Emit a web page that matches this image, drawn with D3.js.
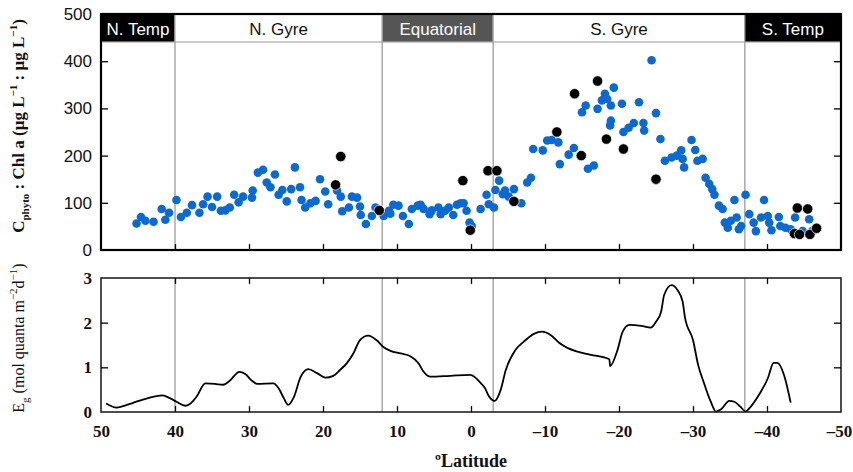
<!DOCTYPE html>
<html><head><meta charset="utf-8">
<script src="https://cdn.jsdelivr.net/npm/d3@7"></script>
<style>body{margin:0;background:#fff}</style>
</head><body>
<svg id="c" width="853" height="472"></svg>
<script>
// ---------- data ----------
const latTicks = [50,40,30,20,10,0,-10,-20,-30,-40,-50];
const innerLatTicks = [40,30,20,10,0,-10,-20,-30,-40];
const chlTicks = [0,100,200,300,400,500];
const egTicks = [0,1,2,3];
const regionNames = ["N. Temp","N. Gyre","Equatorial","S. Gyre","S. Temp"];
const regionBounds = [50,40,12,-3,-37,-50];

// C_phyto : Chl a from cell counts (blue)
const cellLat = [45.2,44.6,44.0,42.9,41.8,41.3,40.8,39.8,39.2,38.4,37.7,36.7,36.2,35.6,35.0,34.3,33.8,33.2,32.6,32.0,31.4,30.8,29.6,29.5,28.8,28.1,27.6,27.1,26.5,26.0,25.5,24.9,24.3,23.8,23.1,22.9,22.4,21.7,21.0,20.4,19.7,19.3,18.1,17.6,17.4,16.5,16.1,15.4,15.0,14.9,14.2,13.4,12.9,11.8,11.1,
 10.9,10.5,9.8,9.2,8.4,8.0,7.2,6.8,6.4,5.6,5.3,4.4,4.1,3.5,3.0,2.4,1.9,1.4,1.0,0.6,0.2,-0.1,-1.3,-2.1,-2.4,-3.1,-3.3,-3.8,-4.3,-4.6,-5.1,-5.8,-6.8,-7.6,-8.1,-8.4,-9.7,-10.3,-10.9,-11.8,-12.0,-13.2,-13.9,-15.0,-15.5,-15.8,-16.6,-17.1,-17.7,-18.1,-18.4,-18.9,-18.9,-18.8,-19.3,-20.4,-20.6,
 -21.3,-22.0,-22.7,-23.3,-23.4,-24.4,-25.0,-25.6,-26.2,-27.1,-27.8,-28.4,-28.6,-28.8,-29.8,-30.3,-30.6,-31.3,-31.7,-32.2,-32.6,-32.9,-33.5,-34.0,-34.3,-34.7,-35.1,-35.6,-35.9,-36.2,-36.5,-37.1,-37.6,-38.2,-38.5,-39.2,-39.6,-40.1,-40.3,-40.6,-41.6,-41.8,-42.5,-43.2,-43.8,-45.7,-44.8,-46.1];
const cellRatio = [56,70,62,60,87,64,79,106,70,79,95,79,97,113,91,113,83,84,90,117,101,113,111,126,164,170,143,133,160,117,127,103,129,175,133,106,90,99,104,150,124,97,126,113,82,90,113,111,92,74,55,72,90,72,83,
 77,96,94,72,55,87,94,96,87,76,84,90,76,83,90,74,96,99,99,83,58,51,87,117,97,90,127,147,118,126,113,129,99,143,153,214,211,232,233,228,182,202,216,292,306,172,179,299,317,331,320,306,274,264,344,310,250,
 259,269,313,269,253,402,290,235,189,196,200,211,193,175,233,212,189,193,153,140,129,117,94,87,58,47,62,106,69,44,51,117,76,58,40,69,106,72,58,42,70,51,47,44,69,65,40,40];

// C_phyto : Chl a, second data set (black)
const hplcLat = [18.3,17.6,12.4,1.1,0.1,-2.3,-3.5,-5.8,-11.6,-14.0,-14.9,-17.1,-18.3,-20.6,-25.0,-44.1,-45.5,-43.7,-44.4,-45.8,-46.7];
const hplcRatio = [138,198,84,147,42,168,168,103,250,331,200,358,235,214,150,89,87,35,33,33,46];

// E_g
const egLat = [49.3,47.9,46.5,45.2,43.4,41.7,40.7,39.8,38.6,38.0,37.1,35.9,34.6,33.5,32.6,31.3,30.5,29.6,28.9,26.7,26.0,25.3,24.7,24.0,23.0,22.0,20.8,19.7,18.6,17.7,16.8,15.9,15.0,13.9,12.7,11.8,10.9,9.5,8.2,7.1,6.4,5.5,2.8,0.1,-1.3,-1.9,-2.4,-3.2,-4.0,-4.7,-6.0,-7.1,-8.5,-9.6,-10.8,-11.9,-13.1,-14.4,-16.2,-18.7,-18.8,-19.8,-20.5,-21.4,-23.0,-24.3,-25.0,-25.7,-26.1,-27.1,-27.9,-28.6,-28.9,-30.0,-30.7,-31.5,-32.4,-33.1,-33.8,-34.9,-35.6,-36.4,-37.1,-37.7,-38.9,-40.1,-40.9,-41.4,-42.3,-43.2];
const egVal = [0.19,0.10,0.16,0.23,0.32,0.37,0.31,0.23,0.14,0.18,0.34,0.64,0.63,0.61,0.70,0.90,0.85,0.70,0.63,0.64,0.53,0.31,0.16,0.31,0.79,0.96,0.87,0.77,0.81,0.94,1.09,1.31,1.61,1.71,1.60,1.45,1.37,1.31,1.25,1.09,0.90,0.79,0.81,0.83,0.65,0.53,0.36,0.25,0.49,0.94,1.39,1.57,1.75,1.80,1.72,1.55,1.43,1.35,1.28,1.18,1.03,1.39,1.80,1.95,1.93,1.89,2.02,2.25,2.62,2.84,2.73,2.47,2.13,1.61,1.05,0.64,0.23,0.01,0.06,0.25,0.23,0.12,0.01,0.10,0.38,0.75,1.10,1.10,0.83,0.21];

// ---------- styles ----------
const regionFill = ["#000","#fff","#555","#fff","#000"];
const regionText = ["#fff","#111","#fff","#111","#fff"];
const SANS = "'Liberation Sans', Arial, sans-serif";
const SERIF = "'Liberation Serif', 'Times New Roman', serif";

// ---------- scales ----------
const svg = d3.select("#c");
const x = d3.scaleLinear().domain([50,-50]).range([101,841]);
const yTop = d3.scaleLinear().domain([0,500]).range([250,14]);
const yBot = d3.scaleLinear().domain([0,3]).range([412,278]);
const headerBottom = 42;

// ---------- top panel ----------
const gridLats = regionBounds.slice(1,-1);
svg.append("g").selectAll("line").data(gridLats).join("line")
  .attr("x1",d=>x(d)).attr("x2",d=>x(d)).attr("y1",yTop(500)).attr("y2",yTop(0))
  .attr("stroke","#a8a8a8").attr("stroke-width",1.5);

const cells = cellLat.map((l,i)=>({lat:l,v:cellRatio[i]}));
svg.append("g").selectAll("circle").data(cells).join("circle")
  .attr("cx",d=>x(d.lat)).attr("cy",d=>yTop(d.v)).attr("r",4.3)
  .attr("fill","#0b69d0");
const hplc = hplcLat.map((l,i)=>({lat:l,v:hplcRatio[i]}));
svg.append("g").selectAll("circle").data(hplc).join("circle")
  .attr("cx",d=>x(d.lat)).attr("cy",d=>yTop(d.v)).attr("r",5.2)
  .attr("fill","#000").attr("stroke","#fff").attr("stroke-width",0.7);

// header bands
const bands = regionNames.map((n,i)=>({name:n,a:regionBounds[i],b:regionBounds[i+1],fill:regionFill[i],tc:regionText[i]}));
const hg = svg.append("g");
hg.selectAll("rect").data(bands).join("rect")
  .attr("x",d=>x(d.a)).attr("width",d=>x(d.b)-x(d.a))
  .attr("y",yTop(500)).attr("height",headerBottom-yTop(500))
  .attr("fill",d=>d.fill).attr("stroke","#a8a8a8").attr("stroke-width",1.2);
hg.selectAll("text").data(bands).join("text")
  .attr("x",d=>(x(d.a)+x(d.b))/2).attr("y",34.5)
  .attr("text-anchor","middle").attr("fill",d=>d.tc)
  .style("font-family",SANS).style("font-size","17px").text(d=>d.name);

// frame
svg.append("rect").attr("x",x(50)).attr("y",yTop(500)).attr("width",x(-50)-x(50)).attr("height",yTop(0)-yTop(500))
  .attr("fill","none").attr("stroke","#000").attr("stroke-width",2.2);

// axes top panel
const aL = svg.append("g").attr("transform",`translate(${x(50)},0)`)
  .call(d3.axisLeft(yTop).tickValues(chlTicks).tickSize(-7).tickPadding(9));
aL.select(".domain").remove();
aL.selectAll(".tick line").filter(d=>d===0||d===500).remove();
aL.selectAll("text").style("font-family",SANS).style("font-size","17px").attr("fill","#111");
aL.selectAll(".tick line").attr("stroke-width",1.3);
const aR = svg.append("g").attr("transform",`translate(${x(-50)},0)`)
  .call(d3.axisRight(yTop).tickValues([100,200,300,400]).tickSize(-7).tickFormat(""));
aR.select(".domain").remove(); aR.selectAll(".tick line").attr("stroke-width",1.3);
const aB = svg.append("g").attr("transform",`translate(0,${yTop(0)})`)
  .call(d3.axisBottom(x).tickValues(innerLatTicks).tickSize(-6).tickFormat(""));
aB.select(".domain").remove(); aB.selectAll(".tick line").attr("stroke-width",1.3);

// top y label
const tl = svg.append("text").attr("transform","translate(24,126) rotate(-90)")
  .attr("text-anchor","middle").style("font-family",SERIF).style("font-size","17px").style("font-weight","bold").attr("fill","#111");
tl.append("tspan").text("C");
tl.append("tspan").attr("dy",5).style("font-size","11px").text("phyto");
tl.append("tspan").attr("dy",-5).text(" : Chl a  (µg L");
tl.append("tspan").attr("dy",-7).style("font-size","11px").text("−1");
tl.append("tspan").attr("dy",7).text(" : µg L");
tl.append("tspan").attr("dy",-7).style("font-size","11px").text("−1");
tl.append("tspan").attr("dy",7).text(")");

// ---------- bottom panel ----------
svg.append("g").selectAll("line").data(gridLats).join("line")
  .attr("x1",d=>x(d)).attr("x2",d=>x(d)).attr("y1",yBot(3)).attr("y2",yBot(0))
  .attr("stroke","#a8a8a8").attr("stroke-width",1.5);

const eg = egLat.map((l,i)=>({lat:l,v:egVal[i]}));
svg.append("path").datum(eg)
  .attr("d",d3.line().x(d=>x(d.lat)).y(d=>yBot(d.v)).curve(d3.curveMonotoneX))
  .attr("fill","none").attr("stroke","#000").attr("stroke-width",1.8);

svg.append("rect").attr("x",x(50)).attr("y",yBot(3)).attr("width",x(-50)-x(50)).attr("height",yBot(0)-yBot(3))
  .attr("fill","none").attr("stroke","#222").attr("stroke-width",1.6);

const bL = svg.append("g").attr("transform",`translate(${x(50)},0)`)
  .call(d3.axisLeft(yBot).tickValues(egTicks).tickSize(-7).tickPadding(9).tickFormat(d3.format("d")));
bL.select(".domain").remove();
bL.selectAll(".tick line").filter(d=>d===0||d===3).remove();
bL.selectAll("text").style("font-family",SERIF).style("font-size","17px").style("font-weight","bold").attr("fill","#111");
const bR = svg.append("g").attr("transform",`translate(${x(-50)},0)`)
  .call(d3.axisRight(yBot).tickValues([1,2]).tickSize(-7).tickFormat(""));
bR.select(".domain").remove();
const bT = svg.append("g").attr("transform",`translate(0,${yBot(3)})`)
  .call(d3.axisTop(x).tickValues(innerLatTicks).tickSize(-6).tickFormat(""));
bT.select(".domain").remove();
const latFmt = d => (d < 0 ? "–" + Math.abs(d) : String(d));
const bB = svg.append("g").attr("transform",`translate(0,${yBot(0)})`)
  .call(d3.axisBottom(x).tickValues(latTicks).tickSize(-6).tickPadding(13).tickFormat(latFmt));
bB.select(".domain").remove();
bB.selectAll(".tick line").filter(d=>d===50||d===-50).remove();
bB.selectAll("text").style("font-family",SERIF).style("font-size","17px").style("font-weight","bold").attr("fill","#111");
bB.selectAll(".tick text").filter(d=>d===-50).attr("dx",-2);
[bL,bR,bT,bB].forEach(g=>g.selectAll(".tick line").attr("stroke-width",1.3));

// bottom y label
const bl = svg.append("text").attr("transform","translate(24,338) rotate(-90)")
  .attr("text-anchor","middle").style("font-family",SERIF).style("font-size","16px").attr("fill","#111");
bl.append("tspan").text("E");
bl.append("tspan").attr("dy",5).style("font-size","11px").text("g");
bl.append("tspan").attr("dy",-5).text(" (mol quanta m");
bl.append("tspan").attr("dy",-7).style("font-size","11px").text("−2");
bl.append("tspan").attr("dy",7).text("d");
bl.append("tspan").attr("dy",-7).style("font-size","11px").text("−1");
bl.append("tspan").attr("dy",7).text(")");

// x label
svg.append("text").attr("x",x(0)).attr("y",467).attr("text-anchor","middle")
  .style("font-family",SERIF).style("font-size","18px").style("font-weight","bold").attr("fill","#111")
  .text("ºLatitude");
</script>
</body></html>
